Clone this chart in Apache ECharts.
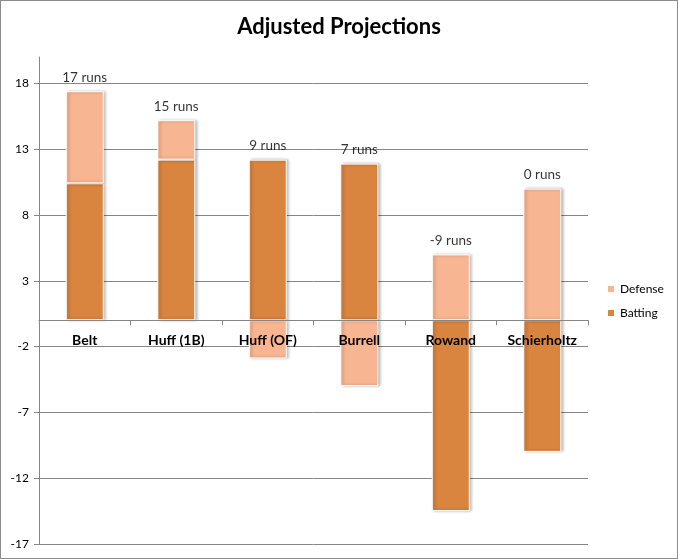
<!DOCTYPE html>
<html><head><meta charset="utf-8">
<script src="https://cdn.jsdelivr.net/npm/echarts@6/dist/echarts.min.js"></script>
<style>html,body{margin:0;padding:0;background:#fff}#c{width:678px;height:559px;box-sizing:border-box;border:1px solid #8c8c8c}</style>
</head><body><div id="c"></div>
<script>
const categories = ['Belt', 'Huff (1B)', 'Huff (OF)', 'Burrell', 'Rowand', 'Schierholtz'];
const batting = [10.4, 12.2, 12.2, 11.9, -14.5, -10.0];
const defense = [7.0, 3.0, -2.9, -5.0, 5.0, 10.0];
const totalRuns = [17, 15, 9, 7, -9, 0];
const yTicks = { min: -17, max: 20, interval: 5 };

const font = 'Lato, "Open Sans", sans-serif';
const labelTop = categories.map((c, i) => Math.max(0, batting[i]) + Math.max(0, defense[i]));
const chart = echarts.init(document.getElementById('c'));
const barShadow = { shadowColor: 'rgba(0,0,0,0.3)', shadowBlur: 3, shadowOffsetX: 2, shadowOffsetY: 0, borderColor: '#fff', borderWidth: 1 };
const gridOpt = { left: 38, right: 89, top: 56, bottom: 14, outerBoundsMode: 'none', containLabel: false };
chart.setOption({
  animation: false,
  title: { text: 'Adjusted Projections', left: 'center', top: 10,
    textStyle: { fontFamily: font, fontSize: 22, fontWeight: 'bold', color: '#000' } },
  legend: { orient: 'vertical', left: 600, top: 277, itemWidth: 8, itemHeight: 8, itemGap: 12,
    data: ['Defense', 'Batting'],
    textStyle: { fontFamily: font, fontSize: 12, color: '#000' }, icon: 'rect' },
  grid: gridOpt,
  xAxis: { type: 'category', data: categories, position: 'bottom', offset: 0, z: 5,
    axisLine: { onZero: false, lineStyle: { color: '#868686' } },
    axisTick: { show: true, length: 5, lineStyle: { color: '#868686' } },
    axisLabel: { fontFamily: font, fontSize: 14, fontWeight: 'bold', color: '#000', margin: 13 } },
  yAxis: { type: 'value', min: yTicks.min, max: yTicks.max, interval: yTicks.interval,
    axisLine: { show: true, lineStyle: { color: '#868686' } },
    axisTick: { show: true, length: 5, lineStyle: { color: '#868686' } },
    splitLine: { show: true, showMaxLine: false, lineStyle: { color: '#868686' } },
    axisLabel: { showMaxLabel: false, fontFamily: font, fontSize: 12, color: '#000', margin: 10 } },
  series: [
    { name: 'Batting', type: 'bar', stack: 'a', data: batting, barWidth: 38,
      itemStyle: Object.assign({ color: '#D9843F' }, barShadow) },
    { name: 'Defense', type: 'bar', stack: 'a', data: defense, barWidth: 38,
      itemStyle: Object.assign({ color: '#F8B591' }, barShadow) },
    { name: 'labels', type: 'scatter', data: labelTop, symbolSize: 0, silent: true,
      label: { show: true, position: 'top', distance: 7, fontFamily: font, fontSize: 13.5, color: '#000',
        formatter: p => totalRuns[p.dataIndex] + ' runs' } }
  ]
});
const zeroY = chart.convertToPixel({ yAxisIndex: 0 }, 0);
const bottomY = chart.convertToPixel({ yAxisIndex: 0 }, yTicks.min);
chart.setOption({ xAxis: { offset: -(bottomY - zeroY) } });
</script></body></html>
